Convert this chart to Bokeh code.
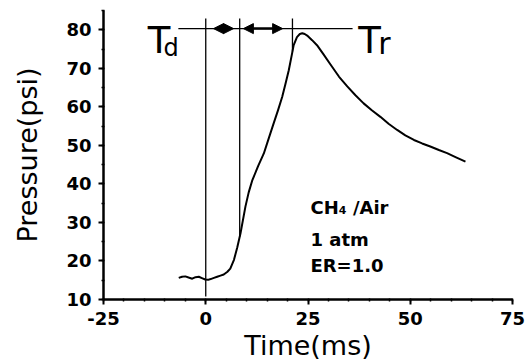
import numpy as np
from bokeh.plotting import figure
from bokeh.models import (Arrow, NormalHead, Label, SingleIntervalTicker, Range1d,
                          PrintfTickFormatter)
from bokeh.embed import file_html
from bokeh.resources import INLINE

# ---- data ----
time_ms = [-6.6, -5.8, -5.0, -4.2, -3.3, -2.5, -1.7, -0.8, -0.1, 0.6, 1.2, 2.0, 2.8, 3.6,
           4.4, 5.3, 6.0, 6.9, 7.7, 8.5, 9.7, 10.5, 11.4, 12.8, 14.2, 15.4, 16.6, 17.7,
           18.7, 19.5, 20.3, 21.1, 21.5, 22.3, 23.0, 23.6, 24.2, 24.8, 26.0, 27.2, 28.8,
           30.5, 32.6, 34.6, 36.6, 38.6, 40.6, 42.7, 44.7, 46.8, 48.8, 50.9, 52.9, 54.9,
           57.0, 59.0, 61.2, 63.5]
pressure_psi = [15.6, 15.9, 16.0, 15.7, 15.4, 15.8, 15.9, 15.5, 15.2, 15.1, 15.3, 15.6, 15.9, 16.2,
                16.5, 17.2, 18.0, 20.3, 23.5, 27.2, 34.1, 37.8, 41.0, 44.6, 47.9, 51.8, 55.7, 59.2,
                62.6, 66.0, 69.5, 73.8, 76.0, 78.1, 78.9, 79.1, 78.9, 78.5, 77.3, 76.0, 73.6,
                71.0, 67.8, 65.3, 63.0, 60.9, 59.1, 57.4, 55.6, 54.0, 52.6, 51.4, 50.5, 49.7,
                48.8, 48.0, 46.9, 45.8]

marker_times = [0.0, 8.3, 21.2]          # vertical guide lines
marker_top = 82.9                        # top of guide lines (psi)
bracket_level = 80.3                     # horizontal bracket line (psi)
bracket_span = [-6.7, 35.9]              # x extent of bracket line (ms)
arrow_spans = [(1.9, 6.8), (9.2, 18.8)]  # double arrows along bracket

x_ticks_interval = 25
y_ticks_interval = 10

FONT = "DejaVu Sans"

p = figure(width=526, height=363, output_backend="svg", toolbar_location=None,
           x_range=Range1d(-25, 75), y_range=Range1d(10, 85),
           min_border_left=103, min_border_right=14, min_border_top=10,
           min_border_bottom=63)
p.outline_line_color = None
p.xgrid.visible = False
p.ygrid.visible = False
p.background_fill_color = "white"
p.border_fill_color = "white"

# axes
p.xaxis.ticker = SingleIntervalTicker(interval=x_ticks_interval, num_minor_ticks=5)
p.yaxis.ticker = SingleIntervalTicker(interval=y_ticks_interval, num_minor_ticks=2)
p.xaxis.formatter = PrintfTickFormatter(format="%d")
p.yaxis.formatter = PrintfTickFormatter(format="%d")
for ax in (p.xaxis[0], p.yaxis[0]):
    ax.axis_line_width = 2.5
    ax.axis_line_color = "black"
    ax.major_tick_line_width = 2
    ax.major_tick_line_color = "black"
    ax.minor_tick_line_width = 1.5
    ax.minor_tick_line_color = "black"
    ax.major_tick_out = 5
    ax.major_tick_in = 0
    ax.minor_tick_out = 2
    ax.minor_tick_in = 1
    ax.major_label_text_font = FONT
    ax.major_label_text_font_style = "bold"
    ax.major_label_text_font_size = "18px"
    ax.major_label_text_color = "black"
    ax.axis_label_text_font = FONT
    ax.axis_label_text_font_style = "normal"
    ax.axis_label_text_font_size = "27px"
    ax.axis_label_text_color = "black"
p.xaxis.axis_label = "Time(ms)"
p.yaxis.axis_label = "Pressure(psi)"
p.xaxis.major_label_standoff = 7
p.yaxis.major_label_standoff = 7
p.xaxis.axis_label_standoff = 2
p.yaxis.axis_label_standoff = 20

# curve
p.line(time_ms, pressure_psi, line_color="black", line_width=2, line_join="round")

# vertical guide lines
bottoms = [10.8] + [float(np.interp(t, time_ms, pressure_psi)) for t in marker_times[1:]]
p.segment(x0=marker_times, y0=bottoms, x1=marker_times, y1=[marker_top] * len(marker_times),
          line_color="black", line_width=1.3)

# horizontal bracket
p.line(bracket_span, [bracket_level, bracket_level], line_color="black", line_width=1.3)
for xs, xe in arrow_spans:
    p.add_layout(Arrow(x_start=xs, y_start=bracket_level, x_end=xe, y_end=bracket_level,
                       line_width=2.5, line_color="black",
                       start=NormalHead(size=10, fill_color="black", line_color="black"),
                       end=NormalHead(size=10, fill_color="black", line_color="black")))

def lab(x, y, text, size, bold=False):
    p.add_layout(Label(x=x, y=y, text=text, text_font=FONT, text_font_size=size,
                       text_font_style="bold" if bold else "normal",
                       text_color="black", text_align="left", text_baseline="alphabetic"))

lab(-14.2, 77.2, "T", "37px")
lab(-10.3, 75.2, "d", "24px")
lab(37.3, 77.2, "T", "37px")
lab(42.2, 76.5, "r", "30px")

lab(25.6, 33.8, "CH\u2084 /Air", "18px", True)
lab(25.6, 25.5, "1 atm", "18px", True)
lab(25.6, 18.8, "ER=1.0", "18px", True)

open("out.html", "w").write(file_html(p, INLINE))
